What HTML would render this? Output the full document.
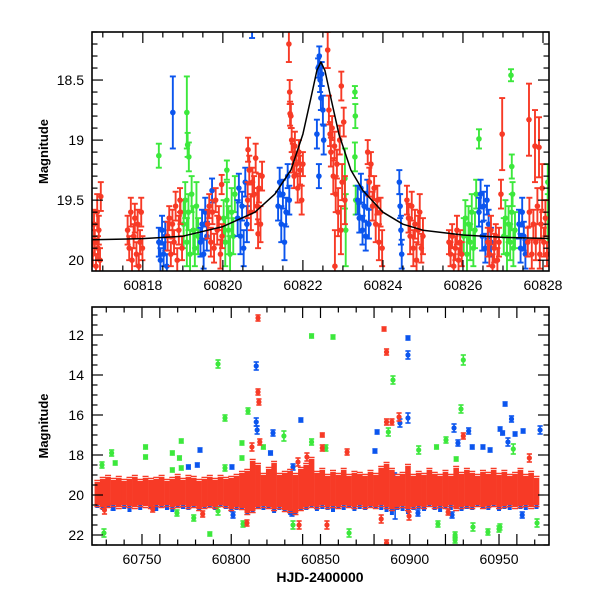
<!DOCTYPE html>
<html><head><meta charset="utf-8"><style>
html,body{margin:0;padding:0;background:#fff}
svg{display:block}
text{font-family:"Liberation Sans",sans-serif;fill:#000}
</style></head><body>
<svg id="c" width="600" height="600" viewBox="0 0 600 600"></svg>
<script>
// ---------------- DATA ----------------
const topCurveT=[60816.73,60818,60819,60820,60820.8,60821.3,60821.7,60822.0,60822.2,60822.35,60822.45,60822.55,60822.7,60822.9,60823.2,60823.5,60824,60824.5,60825,60826,60827,60828.2];
const topCurveM=[19.83,19.82,19.8,19.72,19.6,19.45,19.25,18.95,18.65,18.42,18.35,18.42,18.65,18.95,19.25,19.42,19.6,19.7,19.75,19.79,19.81,19.82];
const redTop=[[60816.75,19.95,.1],[60816.78,19.7,.12],[60816.8,19.85,.1],[60816.83,20.05,.1],[60816.86,19.6,.15],[60816.88,19.9,.1],[60816.9,19.75,.12],[60816.93,20.0,.1],[60816.95,19.47,.12],
[60817.62,19.75,.12],[60817.66,19.9,.1],[60817.7,19.6,.12],[60817.73,20.0,.1],[60817.77,19.8,.1],[60817.8,19.65,.12],[60817.84,19.95,.1],[60817.87,19.7,.12],[60817.9,20.05,.1],[60817.93,19.85,.1],[60817.96,19.6,.12],[60817.99,19.9,.1],
[60818.62,19.8,.12],[60818.66,19.65,.1],[60818.7,19.95,.1],[60818.74,19.7,.12],[60818.78,19.85,.1],[60818.82,19.55,.12],[60818.86,20.0,.1],[60818.9,19.75,.12],[60818.94,19.6,.1],[60818.98,19.9,.1],[60818.93,19.5,.1],
[60819.62,19.7,.12],[60819.66,19.55,.1],[60819.7,19.85,.12],[60819.74,19.6,.1],[60819.78,19.9,.12],[60819.82,19.5,.1],[60819.86,19.75,.12],[60819.9,19.65,.1],[60819.94,19.95,.12],[60819.98,19.8,.1],[60819.97,19.37,.08],
[60820.62,19.5,.15],[60820.66,19.25,.12],[60820.7,19.6,.15],[60820.74,19.35,.12],[60820.78,19.45,.15],[60820.82,19.15,.12],[60820.86,19.55,.15],[60820.9,19.4,.12],[60820.94,19.7,.15],[60820.98,19.3,.12],[60820.88,19.78,.12],[60820.63,19.08,.1],
[60821.65,18.2,.15],[60821.67,18.6,.1],[60821.68,18.78,.1],[60821.7,18.8,.1],[60821.72,19.0,.1],[60821.75,19.15,.12],[60821.78,19.3,.1],[60821.8,19.05,.12],[60821.84,19.2,.1],[60821.87,19.4,.12],[60821.9,19.1,.1],[60821.93,19.25,.12],[60821.97,19.5,.12],[60822.0,19.2,.1],
[60822.62,18.25,.15],[60822.65,18.75,.12],[60822.68,18.95,.1],[60822.7,19.1,.12],[60822.73,18.9,.1],[60822.76,19.3,.15],[60822.79,19.05,.12],[60822.82,19.45,.15],[60822.85,19.2,.12],[60822.88,19.6,.2],[60822.92,19.0,.12],[60822.95,19.75,.2],[60822.98,19.35,.15],[60823.02,18.85,.12],[60823.05,19.5,.2],[60822.8,20.05,.3],[60822.96,18.55,.12],
[60823.62,19.1,.1],[60823.66,19.35,.12],[60823.7,19.2,.1],[60823.74,19.55,.12],[60823.78,19.4,.1],[60823.82,19.7,.15],[60823.86,19.5,.12],[60823.9,19.85,.15],[60823.94,19.6,.12],[60823.98,19.9,.15],
[60824.6,19.5,.12],[60824.64,19.65,.12],[60824.68,19.8,.15],[60824.72,19.55,.12],[60824.76,19.9,.15],[60824.8,19.7,.12],[60824.84,20.0,.15],[60824.88,19.75,.12],[60824.92,19.6,.15],[60824.96,19.9,.12],[60825.0,19.8,.15],
[60825.65,19.85,.1],[60825.69,19.95,.1],[60825.73,19.8,.1],[60825.77,20.05,.1],[60825.81,19.9,.1],[60825.85,19.75,.12],[60825.89,20.0,.1],[60825.93,19.85,.1],[60825.97,19.95,.1],
[60826.62,19.85,.12],[60826.66,19.95,.1],[60826.7,19.75,.12],[60826.74,20.05,.1],[60826.78,19.9,.12],[60826.82,19.8,.1],[60826.86,20.0,.1],[60826.9,19.85,.12],[60826.95,19.45,.12],[60826.98,18.95,.3],
[60827.65,18.83,.3],[60827.8,19.05,.3],[60827.9,19.06,.25],[60827.62,19.85,.12],[60827.66,19.6,.12],[60827.72,19.95,.12],[60827.76,19.7,.12],[60827.82,19.85,.15],[60827.86,19.55,.15],[60827.92,19.95,.12],[60827.95,19.7,.12],[60827.98,19.4,.2],[60828.02,19.85,.12],[60828.06,19.65,.15],[60828.1,19.95,.1]];
const blueTop=[[60818.4,19.85,.12],[60818.44,20.0,.1],[60818.48,19.75,.12],[60818.52,19.95,.1],[60818.56,19.8,.12],[60818.6,20.05,.1],[60818.75,18.77,.3],
[60819.44,19.85,.12],[60819.48,19.7,.12],[60819.52,19.95,.12],[60819.56,19.6,.12],[60819.6,19.8,.12],[60819.73,19.42,.1],
[60820.37,19.65,.15],[60820.4,19.4,.12],[60820.44,19.8,.15],[60820.48,19.55,.12],[60820.52,19.9,.15],[60820.56,19.35,.12],[60820.6,19.7,.15],[60820.73,18.05,.1],
[60821.38,19.55,.12],[60821.42,19.35,.12],[60821.46,19.7,.15],[60821.5,19.45,.12],[60821.54,19.85,.15],[60821.58,19.6,.12],[60821.62,19.3,.1],[60821.66,19.5,.12],
[60822.35,18.95,.12],[60822.38,18.4,.08],[60822.41,18.3,.08],[60822.43,18.5,.1],[60822.45,18.65,.1],[60822.47,18.45,.1],[60822.5,18.75,.12],[60822.52,19.0,.12],[60822.4,19.3,.1],
[60823.37,19.5,.12],[60823.41,19.65,.12],[60823.45,19.4,.12],[60823.49,19.75,.12],[60823.53,19.55,.12],[60823.57,19.8,.12],[60823.61,19.45,.12],[60823.65,19.7,.12],
[60824.43,19.55,.1],[60824.45,19.75,.12],[60824.47,19.95,.12],[60824.41,19.35,.1],
[60826.4,19.6,.12],[60826.44,19.45,.12],[60826.48,19.8,.12],[60826.52,19.55,.12],[60826.56,19.9,.12],[60826.6,19.5,.12],[60826.64,19.7,.12],[60826.7,19.85,.12],
[60827.4,19.7,.12],[60827.44,19.9,.12],[60827.48,19.6,.12],[60827.52,19.8,.12],[60827.56,19.95,.12]];
const greenTop=[[60818.4,19.13,.1],[60819.1,18.77,.3],[60819.12,19.04,.1],[60819.15,19.14,.12],
[60819.02,19.7,.2],[60819.06,19.5,.15],[60819.1,19.85,.2],[60819.14,19.6,.15],[60819.18,19.95,.2],[60819.22,19.45,.15],[60819.26,19.75,.2],[60819.3,19.9,.15],[60819.34,19.55,.2],[60819.38,19.8,.15],
[60820.02,19.65,.15],[60820.06,19.85,.2],[60820.1,19.5,.15],[60820.14,19.75,.2],[60820.18,19.95,.15],[60820.22,19.6,.2],[60820.26,19.8,.15],[60820.3,19.45,.15],[60820.1,19.25,.08],
[60823.05,19.32,.25],[60823.07,19.75,.3],[60823.3,18.6,.05],[60823.31,18.8,.1],[60823.3,19.14,.12],[60823.32,19.5,.12],
[60826.02,19.8,.15],[60826.06,19.65,.15],[60826.1,19.95,.15],[60826.14,19.7,.15],[60826.18,19.85,.15],[60826.22,19.6,.15],[60826.26,19.9,.15],[60826.3,19.75,.15],[60826.33,19.45,.12],[60826.4,18.99,.08],
[60827.02,19.8,.15],[60827.06,19.65,.15],[60827.1,19.95,.15],[60827.14,19.7,.15],[60827.18,19.85,.15],[60827.22,19.6,.15],[60827.26,19.9,.15],[60827.3,19.75,.15],[60827.2,18.46,.05],[60827.22,19.22,.1],[60827.24,19.45,.1],
[60828.12,19.35,.15],[60828.12,19.65,.2]];

const bandT=[60725,60728,60731,60734,60737,60740,60743,60746,60749,60752,60755,60758,60761,60764,60767,60770,60773,60776,60779,60782,60785,60788,60791,60794,60797,60800,60803,60806,60809,60812,60815,60818,60821,60824,60827,60830,60833,60836,60839,60842,60845,60848,60851,60854,60857,60860,60863,60866,60869,60872,60875,60878,60881,60884,60887,60890,60893,60896,60899,60902,60905,60908,60911,60914,60917,60920,60923,60926,60929,60932,60935,60938,60941,60944,60947,60950,60953,60956,60959,60962,60965,60968,60971];
const redBandTop=[19.35,19.2,19.1,19.25,19.15,19.3,19.2,19.1,19.3,19.15,19.25,19.2,19.1,19.3,19.2,19.05,19.25,19.1,19.15,19.3,19.2,19.1,19.25,19.1,19.2,19.15,19.05,18.9,18.8,18.3,18.5,19.0,18.7,18.4,19.0,18.9,18.8,19.0,18.7,18.5,18.2,18.9,18.75,19.05,18.85,19.0,18.75,19.05,18.9,18.95,19.05,18.85,19.0,18.65,18.45,18.75,19.05,18.95,18.55,19.05,18.9,19.0,18.75,18.95,19.05,18.85,19.05,18.65,18.95,18.75,18.9,19.05,18.85,18.95,18.75,19.0,18.85,19.05,18.95,18.75,19.05,18.9,19.15];
const redBandBot=[20.5,20.6,20.55,20.5,20.6,20.5,20.55,20.6,20.5,20.55,20.6,20.5,20.55,20.5,20.6,20.55,20.5,20.6,20.55,20.7,20.6,20.55,20.6,20.5,20.55,20.7,20.6,20.65,20.9,20.8,20.6,20.55,20.6,20.7,20.6,20.75,20.8,20.9,20.7,20.6,20.55,20.6,20.5,20.6,20.55,20.6,20.5,20.55,20.6,20.5,20.6,20.55,20.6,20.5,20.6,20.7,20.6,20.55,20.7,20.6,20.55,20.6,20.5,20.6,20.55,20.6,20.5,20.7,20.6,20.55,20.6,20.5,20.6,20.55,20.5,20.6,20.55,20.5,20.6,20.55,20.5,20.6,20.5];
const blueBandBot=[20.65,20.75,20.6,20.8,20.6,20.7,20.85,20.6,20.75,20.55,20.7,20.8,20.6,20.75,20.85,20.6,20.7,20.75,20.6,20.8,20.7,20.6,20.75,20.55,20.7,20.85,20.75,20.7,20.95,20.85,20.65,20.75,20.7,20.9,20.75,20.85,21.0,21.0,20.75,20.75,20.6,20.8,20.7,20.75,20.85,20.7,20.75,20.6,20.8,20.7,20.75,20.6,20.7,20.75,20.85,21.0,20.75,20.8,20.95,20.75,20.7,20.8,20.6,20.75,20.85,20.7,20.75,20.6,20.8,20.7,20.75,20.6,20.7,20.75,20.6,20.8,20.7,20.75,20.6,20.7,20.75,20.6,20.7];
const redOut=[[60815,11.15,.15],[60815,14.85,.15],[60815.5,15.35,.15],[60816,17.35,.15],[60811.6,17.6,.2],[60837.4,18.35,.2],[60842.4,18.1,.2],[60729,20.75,.2],[60808.8,21.4,.15],[60838,21.5,.2],[60784,20.95,.15],[60756,20.7,.15],
[60885.6,11.7,.1],[60887,12.85,.15],[60887,16.35,.15],[60890,16.35,.15],[60894,16.1,.2],[60930,17.05,.15],[60851,17.0,.1],[60851,17.65,.15],[60864.9,17.85,.15],[60967,18.15,.2],[60853.6,21.5,.2],[60884,21.2,.2],[60887,22.4,.15],[60899.6,21.05,.2],[60921.5,20.85,.15]];
const blueOut=[[60814,13.55,.2],[60814,16.35,.2],[60814.5,16.75,.2],[60839,16.25,.1],[60823.4,16.9,.15],[60782.5,17.75,.1],[60776,18.6,.1],[60781,18.5,.1],[60800.4,18.6,.1],[60822,17.9,.1],[60834.6,18.6,.15],[60733.8,20.6,.15],[60801,21.0,.15],[60834,20.9,.15],
[60899,12.15,.1],[60899,13.0,.2],[60953.4,15.45,.1],[60899,16.15,.25],[60894.5,16.4,.2],[60881.7,16.85,.1],[60924.8,16.65,.2],[60933,16.8,.15],[60950.6,16.7,.1],[60957,16.2,.15],[60952,16.9,.1],[60959,16.95,.1],[60963.5,16.8,.1],[60973,16.75,.2],[60955,17.35,.2],[60941,17.6,.1],[60880.5,17.8,.1],[60935,17.6,.1],[60945,17.75,.1],[60927,17.4,.15],[60963,21.0,.15],[60923.7,21.0,.15],[60904.6,20.9,.15],[60891.5,19.5,.6],[60891.8,20.6,.6]];
const greenOut=[[60845,12.05,.1],[60792.6,13.45,.2],[60796.5,16.15,.15],[60809.4,15.8,.15],[60845,17.35,.15],[60829.5,17.05,.25],[60806,17.4,.1],[60806,18.15,.1],[60752,17.6,.1],[60752,18.1,.1],[60733,17.9,.15],[60735,18.4,.1],[60727.6,18.5,.15],[60767,17.9,.1],[60772,17.3,.1],[60771,18.15,.1],[60767,18.75,.1],[60772,18.65,.1],[60796.5,18.65,.15],[60818,17.6,.1],
[60728.7,21.9,.2],[60788,21.95,.1],[60806.6,21.45,.15],[60834.6,21.5,.2],[60779,21.15,.15],[60792.6,20.8,.2],[60769.6,20.9,.15],
[60857,12.1,.1],[60890.6,14.25,.2],[60930,13.25,.25],[60928.7,15.7,.2],[60888,16.85,.2],[60920.3,17.25,.15],[60915,17.6,.1],[60905,17.75,.2],[60853,17.65,.15],[60958,17.7,.25],[60926,18.2,.1],
[60866,21.9,.2],[60915.8,21.45,.15],[60925.4,22.0,.15],[60925.4,22.25,.15],[60935.4,21.6,.2],[60943.8,21.85,.15],[60950,21.7,.15],[60950.5,21.6,.15],[60971.3,21.4,.2]];

const topXTicks=[60818,60820,60822,60824,60826,60828];
const topYTicks=[18.5,19,19.5,20];
const botXTicks=[60750,60800,60850,60900,60950];
const botYTicks=[12,14,16,18,20,22];

// ---------------- RENDER ----------------
const NS='http://www.w3.org/2000/svg';
const svg=document.getElementById('c');
function el(tag,attrs,parent){const e=document.createElementNS(NS,tag);for(const k in attrs)e.setAttribute(k,attrs[k]);(parent||svg).appendChild(e);return e;}
const RED='#f73a26',BLUE='#0b55ee',GREEN='#3ce83c';
const P1={l:92,r:549,t:32,b:271,x0:60816.73,x1:60828.15,y0:18.1,y1:20.09};
const P2={l:92,r:549,t:307,b:545,x0:60722,x1:60978,y0:10.6,y1:22.5};
function sx(P,v){return P.l+(v-P.x0)/(P.x1-P.x0)*(P.r-P.l);}
function sy(P,v){return P.t+(v-P.y0)/(P.y1-P.y0)*(P.b-P.t);}
const defs=el('defs',{});
[['clip1',P1],['clip2',P2]].forEach(([id,P])=>{const cp=el('clipPath',{id:id},defs);el('rect',{x:P.l,y:P.t,width:P.r-P.l,height:P.b-P.t},cp);});

function drawPoints(P,g,data,color,r,cap,sw){
  data.forEach(d=>{
    const x=sx(P,d[0]),y=sy(P,d[1]),y1=sy(P,d[1]-d[2]),y2=sy(P,d[1]+d[2]);
    const pg=el('g',{},g);
    
    
    el('line',{x1:x,x2:x,y1:y1,y2:y2,stroke:color,'stroke-width':sw},pg);
    el('line',{x1:x-cap,x2:x+cap,y1:y1,y2:y1,stroke:color,'stroke-width':sw},pg);
    el('line',{x1:x-cap,x2:x+cap,y1:y2,y2:y2,stroke:color,'stroke-width':sw},pg);
    el('circle',{cx:x,cy:y,r:r,fill:color},pg);
  });
}
function axes(P,xt,yt,xMinor,yMinor,name){
  const g=el('g',{});
  
  
  const xs=Math.ceil(P.x0/xMinor);
  for(let i=xs;i*xMinor<=P.x1;i++){const v=i*xMinor,x=sx(P,v);const major=Math.abs((v/(xMinor*4))-Math.round(v/(xMinor*4)))<1e-6||xt.some(t=>Math.abs(t-v)<1e-6);const L=major?11:5.5;
    el('line',{x1:x,x2:x,y1:P.b,y2:P.b-L,stroke:'#000','stroke-width':1.2},g);el('line',{x1:x,x2:x,y1:P.t,y2:P.t+L,stroke:'#000','stroke-width':1.2},g);}
  const ys=Math.ceil(P.y0/yMinor-1e-9);
  for(let i=ys;i*yMinor<=P.y1+1e-9;i++){const v=i*yMinor,y=sy(P,v);const major=yt.some(t=>Math.abs(t-v)<1e-6);const L=major?11:5.5;
    el('line',{x1:P.l,x2:P.l+L,y1:y,y2:y,stroke:'#000','stroke-width':1.2},g);el('line',{x1:P.r,x2:P.r-L,y1:y,y2:y,stroke:'#000','stroke-width':1.2},g);}
  el('rect',{x:P.l,y:P.t,width:P.r-P.l,height:P.b-P.t,fill:'none',stroke:'#000','stroke-width':1.6},g);
  xt.forEach(v=>{const t=el('text',{x:sx(P,v),y:P.b+19,'text-anchor':'middle','font-size':14},g);t.textContent=String(v);
    });
  yt.forEach(v=>{const t=el('text',{x:P.l-8,y:sy(P,v)+5,'text-anchor':'end','font-size':14},g);t.textContent=String(v);
    });
}

// top panel
const g1=el('g',{'clip-path':'url(#clip1)'});


drawPoints(P1,g1,greenTop,GREEN,2.8,3,1.9);
drawPoints(P1,g1,blueTop,BLUE,2.8,3,1.9);
drawPoints(P1,g1,redTop,RED,2.8,3,1.9);
let dstr='';topCurveT.forEach((t,i)=>{dstr+=(i?'L':'M')+sx(P1,t).toFixed(1)+','+sy(P1,topCurveM[i]).toFixed(1);});
const cv=el('path',{d:dstr,fill:'none',stroke:'#000','stroke-width':1.5,'stroke-linejoin':'round'},g1);

axes(P1,topXTicks,topYTicks,0.5,0.1,'top');

// bottom panel
const g2=el('g',{'clip-path':'url(#clip2)'});


const n=Math.min(bandT.length,redBandTop.length,redBandBot.length,blueBandBot.length);
for(let i=0;i<n;i++){const x=sx(P2,bandT[i]);
  const b=el('line',{x1:x,x2:x,y1:sy(P2,redBandBot[i]-0.4),y2:sy(P2,blueBandBot[i]),stroke:BLUE,'stroke-width':4},g2);
  }
drawPoints(P2,g2,greenOut,GREEN,2.6,2.6,1.6);
drawPoints(P2,g2,blueOut,BLUE,2.6,2.6,1.6);
for(let i=0;i<n;i++){const x=sx(P2,bandT[i]);const yt=sy(P2,redBandTop[i]),yb=sy(P2,redBandBot[i]);
  const b=el('line',{x1:x,x2:x,y1:yt,y2:yb,stroke:RED,'stroke-width':5.6},g2);
  
  el('line',{x1:x-3,x2:x+3,y1:yt-1.5,y2:yt-1.5,stroke:RED,'stroke-width':1.5},g2);
  el('line',{x1:x-3,x2:x+3,y1:yb+1.5,y2:yb+1.5,stroke:RED,'stroke-width':1.5},g2);}
drawPoints(P2,g2,redOut,RED,2.6,2.6,1.6);
axes(P2,botXTicks,botYTicks,10,0.5,'bottom');

// axis titles
[P1,P2].forEach(P=>{const cy=(P.t+P.b)/2;const t=el('text',{x:0,y:0,transform:`translate(48,${cy}) rotate(-90)`,'text-anchor':'middle','font-size':13,'font-weight':'bold'});t.textContent='Magnitude';
  });
const xt=el('text',{x:320,y:582,'text-anchor':'middle','font-size':14,'font-family':'Liberation Mono, monospace','font-weight':'bold'});xt.textContent='HJD-2400000';


</script>
</body></html>
